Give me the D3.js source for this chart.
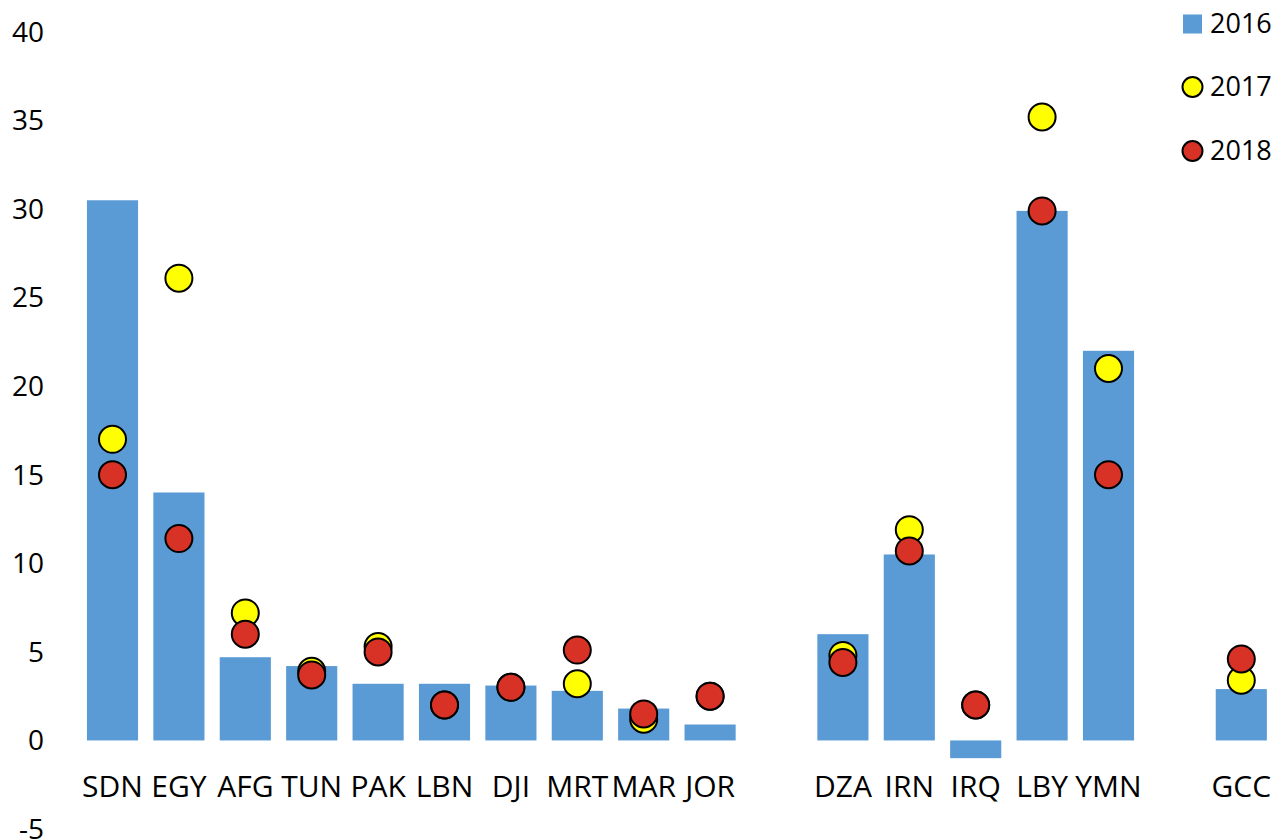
<!DOCTYPE html>
<html><head><meta charset="utf-8">
<script src="https://cdn.jsdelivr.net/npm/d3@7"></script>
<style>body{margin:0;background:#fff}svg{display:block}text{font-family:"Open Sans","Noto Sans",sans-serif;fill:#000}</style>
</head><body>
<svg id="c" width="1283" height="840"></svg>
<script>
const categories = ["SDN","EGY","AFG","TUN","PAK","LBN","DJI","MRT","MAR","JOR","gap1","DZA","IRN","IRQ","LBY","YMN","gap2","GCC"];
const v2016 = [30.5,14.0,4.7,4.2,3.2,3.2,3.1,2.8,1.8,0.9,null,6.0,10.5,-1.0,29.9,22.0,null,2.9];
const v2017 = [17.0,26.1,7.2,3.9,5.3,2.0,3.0,3.2,1.2,2.5,null,4.8,11.9,2.0,35.2,21.0,null,3.4];
const v2018 = [15.0,11.4,6.0,3.7,5.0,2.0,3.0,5.1,1.5,2.5,null,4.4,10.7,2.0,29.9,15.0,null,4.6];
const yTicks = [-5,0,5,10,15,20,25,30,35,40];
const seriesNames = ["2016","2017","2018"];

const svg = d3.select("#c");
const x = d3.scaleBand().domain(categories).range([79.3,1274.5]).paddingInner(0.23).paddingOuter(0.115);
const y = d3.scaleLinear().domain([-5,40]).range([829,32]);

const blue="#5B9BD5", yellow="#FFFF00", red="#D83227";

// bars
svg.append("g").selectAll("rect").data(categories.map((c,i)=>({c,v:v2016[i]})).filter(d=>d.v!==null))
  .join("rect")
  .attr("x",d=>x(d.c)).attr("width",x.bandwidth())
  .attr("y",d=>y(Math.max(0,d.v))).attr("height",d=>Math.abs(y(d.v)-y(0)))
  .attr("fill",blue);

// dots
function dots(vals,color){
  svg.append("g").selectAll("circle").data(categories.map((c,i)=>({c,v:vals[i]})).filter(d=>d.v!==null))
    .join("circle")
    .attr("cx",d=>x(d.c)+x.bandwidth()/2).attr("cy",d=>y(d.v)).attr("r",13.5)
    .attr("fill",color).attr("stroke","#000").attr("stroke-width",2);
}
dots(v2017,yellow);
dots(v2018,red);

// y axis labels
const ya = svg.append("g").attr("transform","translate(44,0)")
  .call(d3.axisLeft(y).tickValues(yTicks).tickSize(0).tickPadding(0).tickFormat(d=>String(d)));
ya.select(".domain").remove();
ya.selectAll("text").attr("font-size",28).attr("dy","0.33em").attr("font-family",'"Open Sans","Noto Sans",sans-serif').attr("fill","#000");

// x labels
const xa = svg.append("g").attr("transform","translate(0,786)")
  .call(d3.axisBottom(x).tickSize(0).tickPadding(0).tickFormat(d=>d.startsWith("gap")?"":d));
xa.select(".domain").remove();
xa.selectAll("text").attr("font-size",30).attr("dy","0.35em").attr("font-family",'"Open Sans","Noto Sans",sans-serif').attr("fill","#000");

// legend
const lg = svg.append("g");
const ly = [24,87,151];
lg.append("rect").attr("x",1183).attr("y",ly[0]-9.5).attr("width",19).attr("height",19).attr("fill",blue);
lg.append("circle").attr("cx",1192.5).attr("cy",ly[1]).attr("r",10).attr("fill",yellow).attr("stroke","#000").attr("stroke-width",2);
lg.append("circle").attr("cx",1192.5).attr("cy",ly[2]).attr("r",10).attr("fill",red).attr("stroke","#000").attr("stroke-width",2);
lg.selectAll("text").data(seriesNames).join("text")
  .attr("x",1210).attr("y",(d,i)=>ly[i]).attr("dy","0.35em").attr("font-size",27).text(d=>d);
</script>
</body></html>
